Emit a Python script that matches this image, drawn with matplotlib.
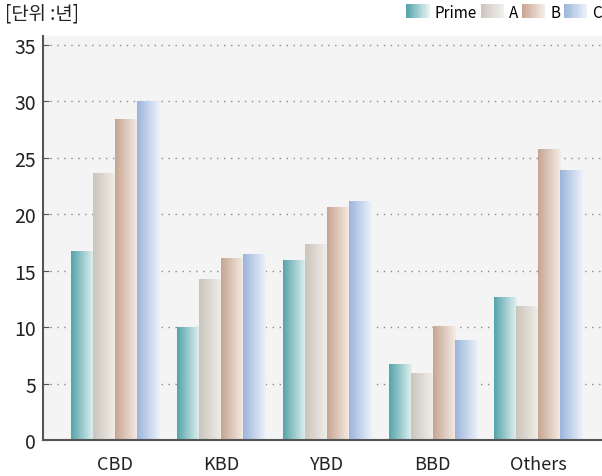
import numpy as np
import matplotlib.pyplot as plt
from matplotlib.colors import LinearSegmentedColormap
from matplotlib.legend_handler import HandlerBase
from matplotlib.patches import Rectangle

plt.rcParams['font.family'] = ['Noto Sans CJK KR', 'DejaVu Sans']

# data
districts = ['CBD', 'KBD', 'YBD', 'BBD', 'Others']
series = ['Prime', 'A', 'B', 'C']
prime = [16.7, 10.0, 15.9, 6.7, 12.6]
grade_a = [23.6, 14.2, 17.3, 5.9, 11.8]
grade_b = [28.4, 16.1, 20.6, 10.1, 25.7]
grade_c = [30.0, 16.4, 21.1, 8.8, 23.9]
values = [prime, grade_a, grade_b, grade_c]

# gradient colours (left -> right)
grads = [('#55a4ab', '#e2f1f1'),
         ('#cbc5bb', '#f1efeb'),
         ('#c7a590', '#f5ece6'),
         ('#9bb5db', '#edf2fa')]
cmaps = [LinearSegmentedColormap.from_list('g%d' % i, c) for i, c in enumerate(grads)]
ramp = np.linspace(0, 1, 64).reshape(1, -1)

fig = plt.figure(figsize=(6.02, 4.77), dpi=100)
ax = fig.add_axes([0.0714, 0.0755, 0.9286, 0.8469])
ax.set_facecolor('#f4f4f4')

x = np.arange(len(districts))
w = 0.208
for i, vals in enumerate(values):
    bars = ax.bar(x + (i - 1.5) * w, vals, w, color='none', edgecolor='none', zorder=2)
    for b in bars:
        bx, by = b.get_xy()
        ax.imshow(ramp, cmap=cmaps[i], aspect='auto', interpolation='bilinear',
                  extent=(bx, bx + b.get_width(), by, by + b.get_height()), zorder=2)

ax.set_xlim(-0.68, 4.6)
ax.set_ylim(0, 35.8)
ax.set_yticks(range(0, 36, 5))
ax.set_xticks(x)
ax.set_xticklabels(districts, fontsize=13)
ax.tick_params(axis='y', direction='in', length=4, labelsize=14, color='#555555', pad=5)
ax.tick_params(axis='x', length=0, pad=11, labelsize=13)
for lab in ax.get_xticklabels() + ax.get_yticklabels():
    lab.set_color('#222222')
ax.yaxis.grid(True, linestyle=(0, (1, 4)), color='#888888', linewidth=1.0, zorder=1)
ax.set_axisbelow(True)
for s in ['top', 'right']:
    ax.spines[s].set_visible(False)
for s in ['left', 'bottom']:
    ax.spines[s].set_color('#555555')
    ax.spines[s].set_linewidth(1.5)

fig.text(0.008, 0.992, '[단위 :년]', ha='left', va='top', fontsize=13.5, color='#222222')


class GradHandler(HandlerBase):
    def __init__(self, cmap):
        super().__init__()
        self.cmap = cmap

    def create_artists(self, legend, orig_handle, xdescent, ydescent, width, height, fontsize, trans):
        arts = []
        n = 20
        for k in range(n):
            r = Rectangle((-xdescent + width * k / n, -ydescent - 0.1 * height), width / n + 0.3,
                          height * 1.3, facecolor=self.cmap(k / (n - 1)), edgecolor='none',
                          transform=trans)
            arts.append(r)
        return arts


handles = [Rectangle((0, 0), 1, 1) for _ in series]
fig.legend(handles, series, handler_map={h: GradHandler(c) for h, c in zip(handles, cmaps)},
           ncol=4, loc='center right', bbox_to_anchor=(1.0, 0.971), frameon=False,
           fontsize=11, handlelength=1.5, columnspacing=0.25,
           handletextpad=0.35, borderaxespad=0, borderpad=0)

fig.savefig('out.png', dpi=100)
